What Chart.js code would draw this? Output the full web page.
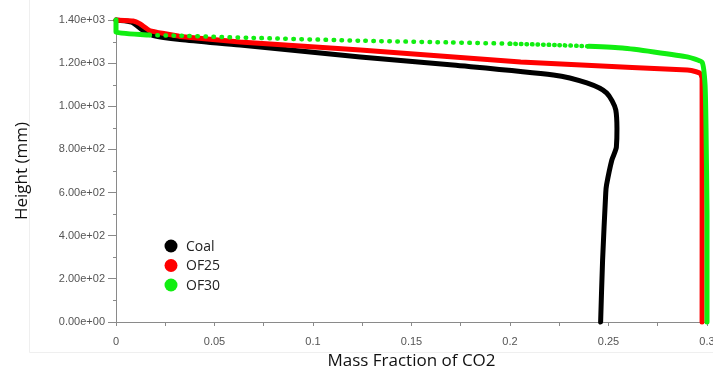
<!DOCTYPE html>
<html>
<head>
<meta charset="utf-8">
<script src="https://cdn.jsdelivr.net/npm/chart.js@4.4.0/dist/chart.umd.min.js"></script>
<style>
  body { margin: 0; background: #fff; }
  #wrap { width: 713px; height: 370px; }
</style>
</head>
<body>
<div id="wrap"><canvas id="co2Chart" width="713" height="370"></canvas></div>
<script>
// mass fraction of CO2 (x) against height in mm (y)
var coalX = [0, 0.008, 0.0137, 0.019, 0.0325, 0.063, 0.124, 0.171, 0.222, 0.239, 0.249, 0.2537, 0.254, 0.2517, 0.249, 0.2486, 0.247, 0.246];
var coalY = [1400, 1390, 1352, 1328, 1310, 1284, 1228, 1191, 1145, 1108, 1062, 983, 811, 751, 635, 598, 287, 0];

var of25X = [0, 0.0087, 0.012, 0.0173, 0.025, 0.0325, 0.063, 0.124, 0.2054, 0.262, 0.29, 0.2945, 0.2968, 0.2975, 0.2975];
var of25Y = [1400, 1395, 1383, 1350, 1336, 1324, 1298, 1261, 1205, 1180, 1168, 1160, 1150, 1130, 0];

var of30X = [0, 0, 0.017, 0.0325, 0.07, 0.124, 0.17, 0.2, 0.223, 0.24, 0.257, 0.273, 0.29, 0.2975, 0.299, 0.2995, 0.3, 0.3];
var of30Y = [1400, 1344, 1330, 1327, 1317, 1304, 1296, 1290, 1284, 1278, 1270, 1252, 1229, 1204, 1100, 900, 500, 0];

var seriesNames = ['Coal', 'OF25', 'OF30'];
var seriesColors = ['#000000', '#ff0000', '#11ee11'];

function pairs(xs, ys) {
  var out = [];
  for (var i = 0; i < xs.length; i++) {
    out.push({ x: xs[i], y: ys[i] });
  }
  return out;
}

function sciLabel(v) {
  return v.toExponential(2).replace(/e([+-])(\d)$/, 'e$10$2');
}

var axisGray = '#8a8a8a';

// green is drawn as dots where the source points were sparse
function dotted(c) {
  var x0 = c.p0.parsed.x;
  return x0 >= 0.017 && x0 < 0.24;
}

// short minor ticks on the y axis, faint frame and the legend inside the plot
var extras = {
  id: 'extras',
  beforeDraw: function(chart) {
    var ctx = chart.ctx;
    ctx.save();
    ctx.strokeStyle = '#efefef';
    ctx.lineWidth = 1;
    ctx.beginPath();
    ctx.moveTo(29.5, 0);
    ctx.lineTo(29.5, 352.5);
    ctx.lineTo(713, 352.5);
    ctx.stroke();
    ctx.restore();
  },
  afterDraw: function(chart) {
    var ctx = chart.ctx;
    var y = chart.scales.y;
    ctx.save();
    ctx.strokeStyle = axisGray;
    ctx.lineWidth = 1;
    y.ticks.forEach(function(t) {
      if (t.value % 200 !== 0) {
        var py = Math.round(y.getPixelForValue(t.value)) + 0.5;
        ctx.beginPath();
        ctx.moveTo(y.right - 3, py);
        ctx.lineTo(y.right, py);
        ctx.stroke();
      }
    });

    ctx.font = '14px "Open Sans", sans-serif';
    ctx.textBaseline = 'middle';
    chart.data.datasets.forEach(function(ds, i) {
      var cy = 246 + i * 19.5;
      ctx.fillStyle = ds.borderColor;
      ctx.beginPath();
      ctx.arc(171, cy, 6.5, 0, Math.PI * 2);
      ctx.fill();
      ctx.fillStyle = '#222';
      ctx.fillText(ds.label, 186, cy + 1);
    });
    ctx.restore();
  }
};

var ctx = document.getElementById('co2Chart');

var co2Chart = new Chart(ctx, {
  type: 'scatter',
  data: {
    datasets: [
      {
        label: seriesNames[0],
        data: pairs(coalX, coalY),
        borderColor: seriesColors[0],
        backgroundColor: seriesColors[0],
        borderWidth: 5,
        tension: 0.25,
        order: 3
      },
      {
        label: seriesNames[1],
        data: pairs(of25X, of25Y),
        borderColor: seriesColors[1],
        backgroundColor: seriesColors[1],
        borderWidth: 5,
        tension: 0.1,
        order: 2
      },
      {
        label: seriesNames[2],
        data: pairs(of30X, of30Y),
        borderColor: seriesColors[2],
        backgroundColor: seriesColors[2],
        borderWidth: 5,
        tension: 0.15,
        order: 1,
        segment: {
          borderDash: function(c) {
            if (!dotted(c)) return undefined;
            return c.p0.parsed.x >= 0.2 ? [0.5, 5] : [0.5, 7.5];
          },
          borderWidth: function(c) {
            return dotted(c) ? 4.5 : undefined;
          }
        }
      }
    ]
  },
  options: {
    responsive: false,
    animation: false,
    showLine: true,
    clip: false,
    elements: {
      point: { radius: 0, hoverRadius: 0 },
      line: { borderCapStyle: 'round', borderJoinStyle: 'round' }
    },
    layout: { padding: { left: 0, right: 0, top: 20, bottom: 0 } },
    plugins: {
      legend: { display: false },
      tooltip: { enabled: false }
    },
    scales: {
      x: {
        type: 'linear',
        min: 0,
        max: 0.3,
        afterFit: function(s) {
          s.height = 48;
          s.paddingRight = 6;
        },
        border: { display: true, color: axisGray, width: 1 },
        grid: {
          drawOnChartArea: false,
          tickLength: 4,
          tickColor: axisGray
        },
        ticks: {
          stepSize: 0.025,
          autoSkip: false,
          maxRotation: 0,
          padding: 9,
          color: '#555',
          font: { family: '"Liberation Sans", Arial, sans-serif', size: 11 },
          callback: function(v) {
            var m = Math.round(v * 1000);
            if (m % 50 !== 0) return '';
            return String(m / 1000);
          }
        },
        title: {
          display: true,
          text: 'Mass Fraction of CO2',
          color: '#111',
          font: { family: '"Open Sans", sans-serif', size: 17, lineHeight: 1 },
          padding: { top: 0, bottom: 0 }
        }
      },
      y: {
        type: 'linear',
        min: 0,
        max: 1400,
        afterFit: function(s) { s.width = 116; },
        border: { display: true, color: axisGray, width: 1 },
        grid: {
          drawOnChartArea: false,
          tickLength: 8,
          tickColor: function(c) {
            return (c.tick && c.tick.value % 200 === 0) ? axisGray : 'rgba(0,0,0,0)';
          }
        },
        ticks: {
          stepSize: 100,
          autoSkip: false,
          padding: 3,
          color: '#555',
          font: { family: '"Liberation Sans", Arial, sans-serif', size: 11 },
          callback: function(v) {
            return v % 200 === 0 ? sciLabel(v) : '';
          }
        },
        title: {
          display: true,
          text: 'Height (mm)',
          color: '#111',
          font: { family: '"Open Sans", sans-serif', size: 17, lineHeight: 1 },
          padding: { top: 14, bottom: 0 }
        }
      }
    }
  },
  plugins: [extras]
});
</script>
</body>
</html>
